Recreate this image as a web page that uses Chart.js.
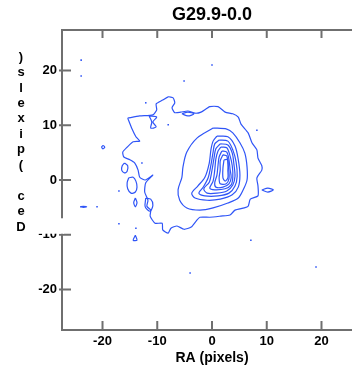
<!DOCTYPE html>
<html>
<head>
<meta charset="utf-8">
<script src="https://cdn.jsdelivr.net/npm/chart.js@4"></script>
<style>
  html, body { margin: 0; padding: 0; background: #fff; overflow: hidden; }
  #wrap { width: 352px; height: 367px; overflow: hidden; }
  #box { width: 424px; height: 367px; }
</style>
</head>
<body>
<div id="wrap"><div id="box"><canvas id="contourChart"></canvas></div></div>
<script>
const chartTitle = 'G29.9-0.0';
const xTitle = 'RA (pixels)';
const yTitle = 'Dec (pixels)';
const xTicks = [-20, -10, 0, 10, 20];
const yTicks = [-20, -10, 0, 10, 20];
const axisMin = -27.4;
const axisMax = 27.4;

// contour levels, outermost first, as [ra, dec] in pixels
const level1 = [[-15.4,11.3],[-13.2,11.7],[-10.8,11.9],[-10.1,12.8],[-10.2,13.9],[-9.0,14.6],[-8.0,15.2],[-7.1,15.0],[-6.8,14.1],[-7.3,13.2],[-6.8,12.3],[-5.7,12.4],[-4.4,12.6],[-3.1,12.2],[-2.0,12.4],[-0.4,13.4],[1.1,13.4],[2.4,12.4],[3.8,12.1],[4.8,11.5],[5.3,10.2],[6.6,8.6],[7.3,6.8],[8.2,5.5],[8.4,4.0],[9.1,2.6],[9.1,1.8],[8.2,0.4],[8.4,-1.1],[8.4,-2.9],[7.0,-3.5],[6.6,-4.8],[5.9,-5.1],[4.2,-5.5],[3.3,-6.4],[1.6,-6.6],[-0.4,-6.8],[-2.2,-6.8],[-2.9,-7.5],[-3.8,-8.6],[-5.1,-9.0],[-6.4,-8.4],[-7.5,-8.8],[-8.0,-9.7],[-9.0,-9.1],[-9.1,-7.9],[-10.4,-7.9],[-11.3,-6.6],[-11.2,-5.5],[-11.9,-4.8],[-11.7,-3.7],[-12.3,-2.2],[-12.1,-0.5],[-10.8,0.9],[-12.2,0.0],[-13.2,0.5],[-13.5,1.8],[-14.1,3.1],[-15.0,3.7],[-16.1,4.2],[-16.3,5.1],[-15.5,6.0],[-14.4,7.0],[-13.2,7.1],[-13.9,7.9],[-14.6,9.3]];
const level2 = [[0.2,9.5],[2.7,9.3],[3.8,8.6],[5.1,6.8],[6.0,4.9],[6.4,2.4],[6.4,0.0],[5.7,-1.8],[4.8,-3.3],[2.9,-4.2],[0.2,-5.1],[-2.2,-5.5],[-4.6,-5.1],[-5.9,-3.7],[-6.2,-1.8],[-5.5,0.5],[-5.3,2.4],[-4.6,5.1],[-2.7,7.7]];
const level3 = [[0.9,8.0],[2.9,7.9],[4.2,6.2],[4.8,3.7],[5.1,0.9],[4.8,-1.3],[3.7,-2.7],[1.5,-3.5],[-0.9,-3.7],[-3.1,-3.3],[-3.7,-2.4],[-2.6,-1.1],[-1.3,0.5],[-0.5,3.1],[-0.2,5.5],[0.2,7.1]];
const level4 = [[1.3,7.3],[2.9,7.1],[3.8,5.5],[4.4,3.3],[4.6,0.7],[4.2,-1.1],[3.1,-2.4],[1.1,-2.9],[-1.3,-2.9],[-2.4,-2.4],[-1.6,-1.3],[-0.7,0.4],[-0.2,2.7],[0.2,5.1],[0.5,6.6]];
const level5 = [[1.5,6.6],[2.9,6.4],[3.7,4.9],[4.0,2.9],[4.2,0.7],[3.8,-0.9],[2.7,-2.0],[0.9,-2.4],[-0.9,-2.4],[-1.5,-1.6],[-0.5,-0.4],[0.0,1.8],[0.4,4.2],[0.7,5.7]];
const level6 = [[1.6,6.0],[2.7,5.9],[3.3,4.4],[3.7,2.6],[3.8,0.5],[3.5,-0.9],[2.4,-1.6],[0.5,-1.8],[-0.4,-1.5],[0.2,-0.2],[0.5,1.8],[0.7,3.8],[1.1,5.3]];
const level7 = [[1.8,5.3],[2.7,5.1],[3.1,3.7],[3.3,2.0],[3.5,0.4],[3.1,-0.7],[2.0,-1.3],[0.7,-1.3],[0.5,-0.5],[0.9,0.9],[1.1,2.7],[1.3,4.2]];
const level8 = [[2.0,4.6],[2.7,4.4],[2.9,3.1],[3.1,1.5],[3.1,0.2],[2.6,-0.7],[1.5,-0.7],[1.3,0.4],[1.5,1.8],[1.5,3.5]];
const level9 = [[2.2,3.7],[2.9,3.7],[2.9,1.8],[2.9,0.4],[2.4,-0.2],[2.0,0.4],[2.0,2.2]];

// small closed islands of the lowest level
const islands = [
  [[-20.2,6.0],[-19.9,6.3],[-19.6,6.0],[-19.9,5.7]],
  [[-24.1,-4.9],[-23.5,-4.8],[-22.9,-4.9],[-23.5,-5.0]],
  [[-16.0,3.1],[-15.4,2.6],[-15.5,1.6],[-16.0,1.3],[-16.5,1.8],[-16.4,2.6]],
  [[-15.2,0.4],[-14.4,0.5],[-13.9,-0.2],[-13.7,-1.3],[-14.0,-2.2],[-14.8,-2.4],[-15.4,-1.6],[-15.5,-0.5]],
  [[-14.0,-3.3],[-13.7,-4.1],[-14.0,-4.9],[-14.3,-4.1]],
  [[-14.0,-10.1],[-13.7,-11.0],[-14.4,-11.0]],
  [[-11.5,11.7],[-10.1,11.5],[-10.8,10.6],[-10.2,9.7],[-11.2,9.5],[-11.0,10.6]],
  [[-5.5,12.1],[-4.4,12.4],[-3.3,12.1],[-4.4,11.7]],
  [[9.1,-1.8],[10.2,-1.5],[11.2,-1.8],[10.2,-2.2]],
  [[-12.1,-3.3],[-11.2,-3.5],[-10.8,-4.6],[-11.3,-5.7],[-12.2,-4.9]]
];

// single-pixel peaks
const specks = [[-23.9,21.9],[-23.9,19.0],[0.0,21.0],[-5.1,18.1],[-12.1,14.1],[-8.0,10.1],[-12.8,3.1],[-17.0,-2.0],[-21.0,-4.9],[-17.0,-8.0],[-13.9,-8.8],[8.2,9.1],[7.1,-11.0],[-4.0,-17.0],[19.0,-15.9]];

const BLUE = '#2f55f7';
const AXIS = '#6f6f6f';
const FONT = '"Liberation Sans", Arial, sans-serif';

function ring(pts) {
  const out = pts.map(p => ({ x: p[0], y: p[1] }));
  out.push({ x: pts[0][0], y: pts[0][1] });
  return out;
}

const levels = [level1, level2, level3, level4, level5, level6, level7, level8, level9];
const datasets = levels.concat(islands).map((pts, i) => ({
  data: ring(pts),
  showLine: true,
  borderColor: BLUE,
  borderWidth: 1.2,
  pointRadius: 0,
  tension: i === 0 ? 0.2 : 0.3,
  fill: false
}));
datasets.push({
  data: specks.map(p => ({ x: p[0], y: p[1] })),
  showLine: false,
  pointStyle: 'rect',
  pointRadius: 1.1,
  borderWidth: 0,
  backgroundColor: BLUE
});

const setTicks = list => scale => { scale.ticks = list.map(v => ({ value: v })); };

// inward tick marks, title, stacked y label
const decorations = {
  id: 'decorations',
  afterDraw(chart) {
    const { ctx, chartArea: a, scales } = chart;
    ctx.save();
    ctx.strokeStyle = AXIS;
    ctx.lineWidth = 2;
    ctx.beginPath();
    xTicks.forEach(v => {
      const px = scales.x.getPixelForValue(v);
      ctx.moveTo(px, a.bottom);
      ctx.lineTo(px, a.bottom - 9);
      ctx.moveTo(px, a.top);
      ctx.lineTo(px, a.top + 8);
    });
    yTicks.forEach(v => {
      const py = scales.y.getPixelForValue(v);
      ctx.moveTo(a.left - 3, py);
      ctx.lineTo(a.left + 9, py);
    });
    ctx.stroke();

    ctx.fillStyle = '#000';
    ctx.textAlign = 'center';
    ctx.textBaseline = 'middle';
    ctx.font = 'bold 18px ' + FONT;
    ctx.fillText(chartTitle, (a.left + a.right) / 2, 15);

    // y title: upright letters stacked bottom to top
    const step = 15.45;
    const bottomY = 227;
    ctx.fillStyle = '#fff';
    ctx.fillRect(0, bottomY - step / 2 - 1, a.left + 2, step);
    ctx.fillStyle = '#000';
    ctx.font = 'bold 13px ' + FONT;
    yTitle.split('').forEach((ch, i) => {
      ctx.fillText(ch, 21, bottomY - i * step);
    });
    ctx.restore();
  }
};

const tickFont = { family: FONT, size: 13, weight: 'bold' };

new Chart(document.getElementById('contourChart'), {
  type: 'scatter',
  data: { datasets },
  options: {
    responsive: true,
    maintainAspectRatio: false,
    animation: false,
    layout: { padding: { left: 0, right: 62, top: 30, bottom: 0 } },
    plugins: {
      legend: { display: false },
      tooltip: { enabled: false },
      title: { display: false }
    },
    scales: {
      x: {
        type: 'linear',
        position: 'bottom',
        min: axisMin,
        max: axisMax,
        afterBuildTicks: setTicks(xTicks),
        afterFit: s => { s.height = 37; },
        grid: { display: false, drawTicks: false },
        border: { display: true, color: AXIS, width: 2 },
        ticks: { color: '#000', font: tickFont, padding: 4, maxRotation: 0 },
        title: {
          display: true,
          text: xTitle,
          color: '#000',
          font: { family: FONT, size: 14, weight: 'bold' },
          padding: { top: 2, bottom: 0 }
        }
      },
      x2: {
        type: 'linear',
        position: 'top',
        min: axisMin,
        max: axisMax,
        afterBuildTicks: setTicks(xTicks),
        afterFit: s => { s.height = 0; },
        grid: { display: false, drawTicks: false },
        border: { display: true, color: AXIS, width: 2 },
        ticks: { display: false }
      },
      y: {
        type: 'linear',
        position: 'left',
        min: axisMin,
        max: axisMax,
        afterBuildTicks: setTicks(yTicks),
        afterFit: s => { s.width = 62; },
        grid: { display: false, drawTicks: false },
        border: { display: true, color: AXIS, width: 2 },
        ticks: { color: '#000', font: tickFont, padding: 5 }
      }
    }
  },
  plugins: [decorations]
});
</script>
</body>
</html>
